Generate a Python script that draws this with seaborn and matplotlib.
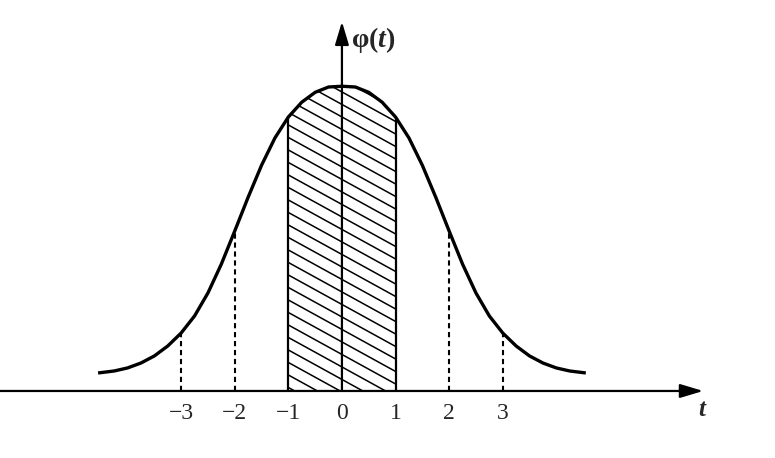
import numpy as np
import matplotlib
matplotlib.use("Agg")
import matplotlib.pyplot as plt
from matplotlib.patches import Polygon
import seaborn as sns

# curve points (t, phi(t))
t_vals = [-4.55, -4.25, -4.0, -3.75, -3.5, -3.25, -3.0, -2.75, -2.5, -2.25, -2.0, -1.75,
          -1.5, -1.25, -1.0, -0.75, -0.5, -0.25, 0.0, 0.25, 0.5, 0.75, 1.0, 1.25, 1.5,
          1.75, 2.0, 2.25, 2.5, 2.75, 3.0, 3.25, 3.5, 3.75, 4.0, 4.25, 4.55]
phi_vals = [0.0237, 0.0263, 0.0303, 0.0368, 0.0461, 0.0592, 0.0763, 0.0987, 0.129, 0.167, 0.2105, 0.255,
            0.297, 0.333, 0.3605, 0.380, 0.393, 0.400, 0.401, 0.400, 0.393, 0.380, 0.3605, 0.333, 0.297,
            0.255, 0.2105, 0.167, 0.129, 0.0987, 0.0763, 0.0592, 0.0461, 0.0368, 0.0303, 0.0263, 0.0237]

tick_pos = [-3, -2, -1, 0, 1, 2, 3]
tick_labels = ['\u22123', '\u22122', '\u22121', '0', '1', '2', '3']
dashed_at = [-3, -2, 2, 3]
shade_from, shade_to = -1, 1

sns.set_style('white')
plt.rcParams['font.family'] = ['Liberation Serif', 'DejaVu Serif']
plt.rcParams['mathtext.fontset'] = 'custom'
plt.rcParams['mathtext.rm'] = 'Liberation Serif:bold'
plt.rcParams['mathtext.it'] = 'Liberation Serif:italic:bold'

fig = plt.figure(figsize=(7.75, 4.58), dpi=100)
ax = fig.add_axes([0, 0, 1, 1])
ax.set_xlim(-6.38, 8.08)
ax.set_ylim(-0.0882, 0.5145)
ax.axis('off')

# the bell curve
sns.lineplot(x=t_vals, y=phi_vals, ax=ax, color='black', lw=2.4, sort=False,
             solid_capstyle='butt', solid_joinstyle='round')

t_arr = np.array(t_vals)
phi_arr = np.array(phi_vals)

# dashed guides at +-2, +-3
for t in dashed_at:
    ax.plot([t, t], [0, np.interp(t, t_arr, phi_arr)], color='black', lw=1.5,
            linestyle=(0, (2.5, 1.8)))

# shaded band between -1 and 1
inside = (t_arr > shade_from) & (t_arr < shade_to)
xs = np.concatenate([[shade_from], t_arr[inside], [shade_to]])
ys = np.interp(xs, t_arr, phi_arr)
poly = np.column_stack([np.concatenate([xs, [shade_to, shade_from]]),
                        np.concatenate([ys, [0, 0]])])
clip = Polygon(poly, closed=True, fill=False, edgecolor='none', transform=ax.transData)
ax.add_patch(clip)
slope = 0.0388
for c in np.arange(-0.1, 0.5, 0.01645):
    ln, = ax.plot([shade_from - 0.2, shade_to + 0.2],
                  [c + slope * 1.2, c - slope * 1.2], color='black', lw=1.1)
    ln.set_clip_path(clip)
for t in [shade_from, shade_to]:
    ax.plot([t, t], [0, np.interp(t, t_arr, phi_arr)], color='black', lw=1.6)

# axes with arrows
ax.annotate('', xy=(6.74, 0), xytext=(-6.4, 0),
            arrowprops=dict(arrowstyle='-|>,head_length=1.0,head_width=0.3',
                            color='black', lw=1.6, mutation_scale=14, shrinkA=0, shrinkB=0))
ax.annotate('', xy=(0, 0.486), xytext=(0, 0),
            arrowprops=dict(arrowstyle='-|>,head_length=1.0,head_width=0.3',
                            color='black', lw=1.6, mutation_scale=14, shrinkA=0, shrinkB=0))

for t, lab in zip(tick_pos, tick_labels):
    ax.text(t, -0.029, lab, ha='center', va='center', fontsize=17)

ax.text(0.16, 0.462, r'$\mathrm{φ(}t\mathrm{)}$', ha='left', va='center', fontsize=20)
ax.text(6.72, -0.024, 't', ha='center', va='center', fontsize=18,
        style='italic', weight='bold')

fig.savefig('out.png', dpi=100)
